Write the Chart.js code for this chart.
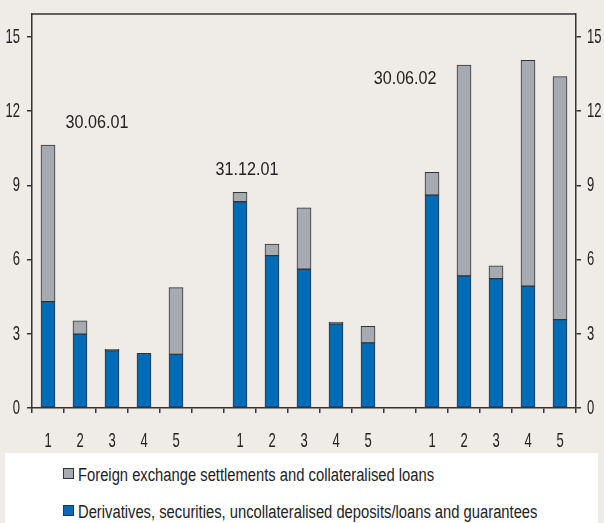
<!DOCTYPE html>
<html>
<head>
<meta charset="utf-8">
<script src="https://cdn.jsdelivr.net/npm/chart.js@4/dist/chart.umd.min.js"></script>
<style>
  html, body { margin: 0; padding: 0; background: #efebe7; }
  #wrap { position: absolute; left: 0; top: 0; width: 604px; height: 453px; }
  #legend { position: absolute; left: 5px; top: 453px; width: 593px; height: 70px; background: #fff;
            font-family: "Liberation Sans", Arial, sans-serif; font-size: 18px; color: #222; }
  .box { position: absolute; left: 58px; width: 9px; height: 9px; border: 1px solid #333; }
  .txt { position: absolute; left: 73px; height: 20px; line-height: 20px; white-space: nowrap;
         transform: scaleX(0.82); transform-origin: 0 0; }
</style>
</head>
<body>
<div id="wrap"><canvas id="chart" width="604" height="453"></canvas></div>
<div id="legend"></div>
<script>
var categories = ['1', '2', '3', '4', '5', '', '1', '2', '3', '4', '5', '', '1', '2', '3', '4', '5'];

// bottom part (blue)
var derivatives = [4.30, 2.99, 2.32, 2.21, 2.17, null, 8.34, 6.16, 5.61, 3.40, 2.63, null, 8.61, 5.34, 5.23, 4.93, 3.57];
// top part (grey)
var foreignExchange = [6.33, 0.53, 0.05, null, 2.70, null, 0.38, 0.47, 2.48, 0.07, 0.67, null, 0.92, 8.52, 0.52, 9.13, 9.83];

var seriesNames = ['Derivatives, securities, uncollateralised deposits/loans and guarantees',
                   'Foreign exchange settlements and collateralised loans'];
var seriesColors = ['#006bb6', '#a6abb2'];

var dateLabels = ['30.06.01', '31.12.01', '30.06.02'];
var dateLabelX = [1.53, 6.22, 11.16];
var dateLabelY = [11.52, 9.62, 13.3];

var yTicks = [0, 3, 6, 9, 12, 15];

var axisColor = '#333';
var textColor = '#222';

// narrow text helper: draws real text squeezed horizontally
function narrowText(ctx, text, x, y, align, squeeze) {
    ctx.save();
    ctx.translate(x, y);
    ctx.scale(squeeze, 1);
    ctx.textAlign = align;
    ctx.fillText(text, 0, 0);
    ctx.restore();
}

var extras = {
    id: 'extras',
    afterDraw: function (chart) {
        var ctx = chart.ctx;
        var a = chart.chartArea;
        var sx = chart.scales.x, sy = chart.scales.y, sy2 = chart.scales.y2;
        ctx.save();
        // top frame line
        ctx.strokeStyle = axisColor;
        ctx.lineWidth = 1.5;
        ctx.beginPath();
        ctx.moveTo(a.left, a.top);
        ctx.lineTo(a.right, a.top);
        ctx.stroke();

        ctx.fillStyle = textColor;
        ctx.textBaseline = 'middle';

        // tick labels
        ctx.font = '21px "Liberation Sans", Arial, sans-serif';
        sy.ticks.forEach(function (t, i) {
            var py = sy.getPixelForTick(i);
            narrowText(ctx, t.label, sy.right - 12, py, 'right', 0.62);
            narrowText(ctx, t.label, sy2.left + 11, py, 'left', 0.62);
        });
        sx.ticks.forEach(function (t, i) {
            narrowText(ctx, categories[t.value], sx.getPixelForTick(i), sx.top + 33, 'center', 0.62);
        });

        // period labels
        ctx.font = '19px "Liberation Sans", Arial, sans-serif';
        for (var i = 0; i < dateLabels.length; i++) {
            narrowText(ctx, dateLabels[i], sx.getPixelForValue(dateLabelX[i]),
                sy.getPixelForValue(dateLabelY[i]), 'center', 0.85);
        }
        ctx.restore();
    }
};

function yAxis(position, width) {
    return {
        type: 'linear',
        position: position,
        stacked: true,
        min: 0,
        max: 15.93,
        afterFit: function (s) { s.width = width; },
        afterBuildTicks: function (s) { s.ticks = yTicks.map(function (v) { return { value: v }; }); },
        ticks: { display: false },
        grid: { drawOnChartArea: false, tickLength: 5, color: axisColor, lineWidth: 1.5 },
        border: { color: axisColor, width: 1.5 }
    };
}

var ctx = document.getElementById('chart').getContext('2d');
new Chart(ctx, {
    type: 'bar',
    data: {
        labels: categories,
        datasets: [{
                label: seriesNames[0],
                data: derivatives,
                backgroundColor: seriesColors[0],
                borderColor: axisColor,
                borderWidth: 1,
                borderSkipped: false,
                barThickness: 14
            },
            {
                label: seriesNames[1],
                data: foreignExchange,
                backgroundColor: seriesColors[1],
                borderColor: axisColor,
                borderWidth: 1,
                borderSkipped: false,
                barThickness: 14
            }
        ]
    },
    options: {
        responsive: false,
        animation: false,
        layout: { autoPadding: false, padding: { top: 14, left: 0, right: 0, bottom: 0 } },
        plugins: { legend: { display: false }, tooltip: { enabled: false } },
        scales: {
            x: {
                stacked: true,
                afterFit: function (s) { s.height = 45; },
                ticks: { display: false, autoSkip: false },
                grid: { drawOnChartArea: false, tickLength: 5, color: axisColor, lineWidth: 1.5, offset: true },
                border: { color: axisColor, width: 1.5 }
            },
            y: yAxis('left', 32),
            y2: yAxis('right', 28)
        }
    },
    plugins: [extras]
});

// legend: grey first, then blue
var legend = document.getElementById('legend');
var order = [1, 0];
var textTops = [12, 49];
for (var i = 0; i < order.length; i++) {
    var k = order[i];
    var b = document.createElement('div');
    b.className = 'box';
    b.style.top = (textTops[i] + 3) + 'px';
    b.style.background = seriesColors[k];
    legend.appendChild(b);
    var t = document.createElement('div');
    t.className = 'txt';
    t.style.top = textTops[i] + 'px';
    t.textContent = seriesNames[k];
    legend.appendChild(t);
}
</script>
</body>
</html>
